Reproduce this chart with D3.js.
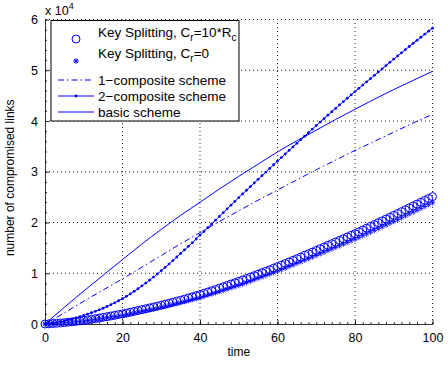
<!DOCTYPE html>
<html>
<head>
<meta charset="utf-8">
<script src="https://cdn.jsdelivr.net/npm/d3@7"></script>
<style>
  body { margin: 0; background: #fff; }
  svg { display: block; font-family: "Liberation Sans", Arial, Helvetica, sans-serif; }
</style>
</head>
<body>
<svg id="chart"></svg>
<script>
// values in units of 10^4 compromised links
const timeFine = d3.range(0, 101)
const timeCoarse = [0, 5, 10, 15, 20, 25, 30, 35, 40, 45, 50, 55, 60, 65, 70, 75, 80, 85, 90, 95, 100]

const keySplitRc = [
  0, 0.004, 0.009, 0.014, 0.02, 0.027, 0.035, 0.043, 0.052, 0.061,
  0.07, 0.081, 0.093, 0.105, 0.118, 0.131, 0.144, 0.158, 0.172, 0.186,
  0.2, 0.216, 0.232, 0.249, 0.266, 0.283, 0.3, 0.317, 0.334, 0.352,
  0.37, 0.39, 0.41, 0.43, 0.45, 0.47, 0.49, 0.513, 0.535, 0.557,
  0.58, 0.605, 0.63, 0.655, 0.681, 0.707, 0.733, 0.76, 0.787, 0.813,
  0.84, 0.868, 0.896, 0.924, 0.953, 0.982, 1.011, 1.04, 1.07, 1.1,
  1.13, 1.161, 1.192, 1.223, 1.255, 1.287, 1.319, 1.351, 1.384, 1.417,
  1.45, 1.483, 1.516, 1.549, 1.582, 1.615, 1.648, 1.681, 1.714, 1.747,
  1.78, 1.816, 1.852, 1.888, 1.924, 1.96, 1.996, 2.032, 2.068, 2.104,
  2.14, 2.177, 2.214, 2.251, 2.288, 2.325, 2.362, 2.399, 2.436, 2.473,
  2.51]

const keySplit0 = [
  0, 0.003, 0.007, 0.012, 0.018, 0.024, 0.03, 0.037, 0.044, 0.052,
  0.06, 0.07, 0.081, 0.092, 0.103, 0.114, 0.125, 0.136, 0.147, 0.158,
  0.17, 0.186, 0.202, 0.218, 0.234, 0.25, 0.266, 0.282, 0.298, 0.314,
  0.33, 0.349, 0.368, 0.387, 0.406, 0.425, 0.444, 0.463, 0.482, 0.501,
  0.52, 0.544, 0.568, 0.592, 0.616, 0.64, 0.664, 0.688, 0.712, 0.736,
  0.76, 0.788, 0.816, 0.844, 0.872, 0.9, 0.928, 0.956, 0.984, 1.012,
  1.04, 1.071, 1.102, 1.133, 1.164, 1.195, 1.226, 1.257, 1.288, 1.319,
  1.35, 1.382, 1.414, 1.446, 1.478, 1.51, 1.542, 1.574, 1.606, 1.638,
  1.67, 1.705, 1.74, 1.775, 1.81, 1.845, 1.88, 1.915, 1.95, 1.985,
  2.02, 2.057, 2.094, 2.131, 2.168, 2.205, 2.242, 2.279, 2.316, 2.353,
  2.39]

const twoComposite = [
  0, 0.005, 0.015, 0.027, 0.042, 0.06, 0.079, 0.098, 0.12, 0.144,
  0.17, 0.196, 0.222, 0.25, 0.279, 0.31, 0.345, 0.38, 0.418, 0.458,
  0.5, 0.545, 0.592, 0.643, 0.695, 0.75, 0.806, 0.864, 0.924, 0.986,
  1.05, 1.115, 1.18, 1.25, 1.32, 1.39, 1.46, 1.53, 1.6, 1.675,
  1.75, 1.823, 1.897, 1.971, 2.045, 2.12, 2.194, 2.268, 2.342, 2.416,
  2.49, 2.563, 2.635, 2.707, 2.779, 2.85, 2.922, 2.994, 3.066, 3.138,
  3.21, 3.28, 3.35, 3.42, 3.49, 3.56, 3.63, 3.7, 3.77, 3.84,
  3.91, 3.978, 4.046, 4.114, 4.182, 4.25, 4.316, 4.382, 4.448, 4.514,
  4.58, 4.644, 4.708, 4.772, 4.836, 4.9, 4.964, 5.028, 5.092, 5.156,
  5.22, 5.282, 5.344, 5.406, 5.468, 5.53, 5.59, 5.65, 5.71, 5.77,
  5.83]

const oneComposite = [0, 0.22, 0.45, 0.67, 0.89, 1.12, 1.35, 1.58, 1.8, 2.02, 2.23,
  2.44, 2.64, 2.84, 3.04, 3.23, 3.42, 3.6, 3.78, 3.96, 4.13]
const basicScheme = [0, 0.33, 0.65, 0.96, 1.27, 1.575, 1.865, 2.14, 2.4, 2.66, 2.91,
  3.15, 3.39, 3.61, 3.82, 4.03, 4.23, 4.43, 4.62, 4.8, 4.98]

const xTicks = [0, 20, 40, 60, 80, 100]
const yTicks = [0, 1, 2, 3, 4, 5, 6]

const width = 448, height = 366
const margin = { top: 19.5, right: 15.5, bottom: 42, left: 45 }
const blue = '#0000ff'

const svg = d3.select('#chart').attr('width', width).attr('height', height)

const x = d3.scaleLinear().domain([0, 100]).range([margin.left, width - margin.right])
const y = d3.scaleLinear().domain([0, 6]).range([height - margin.bottom, margin.top])

// dotted grid
const grid = svg.append('g').attr('stroke', '#222').attr('stroke-width', 1).attr('stroke-dasharray', '1,3')
grid.selectAll('.gx').data(xTicks.slice(1)).join('line')
  .attr('x1', d => x(d)).attr('x2', d => x(d)).attr('y1', y(0)).attr('y2', y(6))
grid.selectAll('.gy').data(yTicks.slice(1)).join('line')
  .attr('x1', x(0)).attr('x2', x(100)).attr('y1', d => y(d)).attr('y2', d => y(d))

// axes (left and bottom only, ticks pointing in)
const xAxis = svg.append('g').attr('transform', `translate(0,${y(0)})`)
  .call(d3.axisBottom(x).tickValues(xTicks).tickSizeInner(-4).tickSizeOuter(0).tickPadding(9))
const xMinor = svg.append('g').attr('transform', `translate(0,${y(0)})`)
  .call(d3.axisBottom(x).tickValues(d3.range(0, 101, 2)).tickSizeInner(-2).tickSizeOuter(0).tickFormat(''))
const yAxis = svg.append('g').attr('transform', `translate(${x(0)},0)`)
  .call(d3.axisLeft(y).tickValues(yTicks).tickFormat(d3.format('d')).tickSizeInner(-4).tickSizeOuter(0).tickPadding(7))
const yMinor = svg.append('g').attr('transform', `translate(${x(0)},0)`)
  .call(d3.axisLeft(y).tickValues(d3.range(0, 6.01, 0.2)).tickSizeInner(-2).tickSizeOuter(0).tickFormat(''))
for (const a of [xAxis, yAxis, xMinor, yMinor]) {
  a.selectAll('path, line').attr('stroke', '#000').attr('stroke-width', 0.8)
  a.selectAll('text').attr('font-size', 12.5).attr('fill', '#000').attr('font-family', null)
}
xMinor.selectAll('path').remove()
yMinor.selectAll('path').remove()

// exponent label
const expo = svg.append('text').attr('x', 45).attr('y', 15).attr('font-size', 12.5).text('x 10')
expo.append('tspan').attr('font-size', 9).attr('dy', -6).text('4')

// axis labels
svg.append('text').attr('x', x(50)).attr('y', 356).attr('text-anchor', 'middle').attr('font-size', 12).text('time')
svg.append('text').attr('transform', `translate(14,${(y(0) + y(6)) / 2 + 6}) rotate(-90)`)
  .attr('text-anchor', 'middle').attr('font-size', 12).text('number of compromised links')

const asterisk = s => {
  const d = s * 0.7071
  return `M${-s},0L${s},0M0,${-s}L0,${s}M${-d},${-d}L${d},${d}M${-d},${d}L${d},${-d}`
}

const plot = svg.append('g')

// key splitting, Cr=10*Rc (circles)
plot.append('g').selectAll('circle').data(keySplitRc).join('circle')
  .attr('cx', (d, i) => x(timeFine[i])).attr('cy', d => y(d)).attr('r', 4)
  .attr('fill', 'none').attr('stroke', blue).attr('stroke-width', 1)

// key splitting, Cr=0 (asterisks)
plot.append('g').selectAll('path').data(keySplit0).join('path')
  .attr('transform', (d, i) => `translate(${x(timeFine[i])},${y(d)})`)
  .attr('d', asterisk(2.8)).attr('fill', 'none').attr('stroke', blue).attr('stroke-width', 0.8)

const lineFine = d3.line().x((d, i) => x(timeFine[i])).y(d => y(d))
const lineCoarse = d3.line().x((d, i) => x(timeCoarse[i])).y(d => y(d)).curve(d3.curveMonotoneX)

plot.append('path').datum(oneComposite).attr('d', lineCoarse)
  .attr('fill', 'none').attr('stroke', blue).attr('stroke-width', 1).attr('stroke-dasharray', '6,3,1.5,3')

plot.append('path').datum(twoComposite).attr('d', lineFine)
  .attr('fill', 'none').attr('stroke', blue).attr('stroke-width', 1)
plot.append('g').selectAll('circle').data(twoComposite).join('circle')
  .attr('cx', (d, i) => x(timeFine[i])).attr('cy', d => y(d)).attr('r', 1.4).attr('fill', blue)

plot.append('path').datum(basicScheme).attr('d', lineCoarse)
  .attr('fill', 'none').attr('stroke', blue).attr('stroke-width', 1)

// legend
const legend = svg.append('g')
legend.append('rect').attr('x', 51).attr('y', 20.5).attr('width', 188).attr('height', 100.5)
  .attr('fill', '#fff').attr('stroke', '#000').attr('stroke-width', 1)

const lx0 = 58, lx1 = 94, lxm = 76, tx = 98
legend.append('circle').attr('cx', lxm).attr('cy', 39).attr('r', 4)
  .attr('fill', 'none').attr('stroke', blue).attr('stroke-width', 1)
legend.append('path').attr('transform', `translate(${lxm},61)`).attr('d', asterisk(2.8))
  .attr('fill', 'none').attr('stroke', blue).attr('stroke-width', 1)
legend.append('line').attr('x1', lx0).attr('x2', lx1).attr('y1', 80).attr('y2', 80)
  .attr('stroke', blue).attr('stroke-dasharray', '6,3,1.5,3')
legend.append('line').attr('x1', lx0).attr('x2', lx1).attr('y1', 96).attr('y2', 96).attr('stroke', blue)
legend.append('circle').attr('cx', lxm).attr('cy', 96).attr('r', 1.4).attr('fill', blue)
legend.append('line').attr('x1', lx0).attr('x2', lx1).attr('y1', 112).attr('y2', 112).attr('stroke', blue)

const fs = 13.5
const t1 = legend.append('text').attr('x', tx).attr('y', 37).attr('font-size', fs)
t1.append('tspan').text('Key Splitting, C')
t1.append('tspan').attr('font-size', 10).attr('dy', 4).text('r')
t1.append('tspan').attr('dy', -4).text('=10*R')
t1.append('tspan').attr('font-size', 10).attr('dy', 4).text('c')

const t2 = legend.append('text').attr('x', tx).attr('y', 58).attr('font-size', fs)
t2.append('tspan').text('Key Splitting, C')
t2.append('tspan').attr('font-size', 10).attr('dy', 4).text('r')
t2.append('tspan').attr('dy', -4).text('=0')

legend.append('text').attr('x', tx).attr('y', 84.5).attr('font-size', fs).text('1\u2212composite scheme')
legend.append('text').attr('x', tx).attr('y', 100.5).attr('font-size', fs).text('2\u2212composite scheme')
legend.append('text').attr('x', tx).attr('y', 116.5).attr('font-size', fs).text('basic scheme')
</script>
</body>
</html>
